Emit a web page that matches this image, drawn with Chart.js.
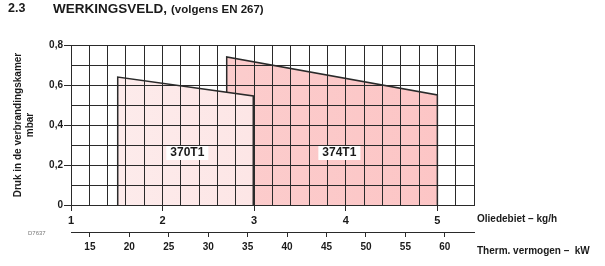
<!DOCTYPE html>
<html>
<head>
<meta charset="utf-8">
<script src="https://cdn.jsdelivr.net/npm/chart.js@4"></script>
<style>
  body { margin: 0; background: #fff; }
  canvas { display: block; }
</style>
</head>
<body>
<canvas id="chart" width="605" height="266"></canvas>
<script>
// werkingsveld: omtrek van elk veld, oliedebiet (kg/h) tegen druk (mbar)
const burners = ['370T1', '374T1'];
const flow370 = [1.51, 1.51, 2.99, 2.99];
const pressure370 = [0, 0.64, 0.545, 0];
const flow374 = [2.70, 2.70, 5.0, 5.0];
const pressure374 = [0, 0.74, 0.55, 0];

// plaats van de veldnamen (kg/h, mbar)
const labelFlow = [2.27, 3.93];
const labelPressure = [0.26, 0.26];

// assen
const flowTicks = [1, 2, 3, 4, 5];
const powerTicks = [15, 20, 25, 30, 35, 40, 45, 50, 55, 60];
const pressureTicks = [0, 0.2, 0.4, 0.6, 0.8];
const flowMin = 1, flowMax = 5.4;
const powerMin = 12.6, powerMax = 63.7;
const pressureMin = 0, pressureMax = 0.8;

const lineColor = '#2a2a2a';
const textColor = '#1a1a1a';
const fontName = '"Liberation Sans", Arial, sans-serif';

function near(list, v) {
    return list.some(t => Math.abs(t - v) < 1e-6);
}

function toPoints(xs, ys) {
    return xs.map((x, i) => ({ x: x, y: ys[i] }));
}

function gradient(chart, from, to) {
    const area = chart.chartArea;
    if (!area) return from;
    const g = chart.ctx.createLinearGradient(area.left, 0, area.right, 0);
    g.addColorStop(0, from);
    g.addColorStop(1, to);
    return g;
}

const annotations = {
    id: 'annotations',
    afterDraw(chart) {
        const { ctx, scales } = chart;
        ctx.save();
        ctx.fillStyle = textColor;
        ctx.textBaseline = 'middle';
        ctx.textAlign = 'left';

        // kop
        ctx.font = 'bold 12.5px ' + fontName;
        ctx.fillText('2.3', 8, 9);
        ctx.font = 'bold 13.5px ' + fontName;
        ctx.fillText('WERKINGSVELD,', 53, 9);
        ctx.font = 'bold 11.5px ' + fontName;
        ctx.fillText('(volgens EN 267)', 171, 9.5);

        // as-namen rechts
        ctx.font = 'bold 10px ' + fontName;
        ctx.fillText('Oliedebiet \u2013 kg/h', scales.x.right + 3, scales.x.top + 14.5);
        ctx.fillText('Therm. vermogen \u2013  kW', scales.x.right + 3, scales.power.top + 19);

        ctx.fillStyle = '#777';
        ctx.font = '6px ' + fontName;
        ctx.fillText('D7637', 28, 233);

        // veldnamen met witte achtergrond
        ctx.font = 'bold 12px ' + fontName;
        ctx.textAlign = 'center';
        burners.forEach((name, i) => {
            const px = scales.x.getPixelForValue(labelFlow[i]);
            const py = scales.y.getPixelForValue(labelPressure[i]);
            const w = ctx.measureText(name).width + 8;
            ctx.fillStyle = '#fff';
            ctx.fillRect(px - w / 2, py - 7, w, 14);
            ctx.fillStyle = textColor;
            ctx.fillText(name, px, py);
        });
        ctx.restore();
    }
};

new Chart(document.getElementById('chart'), {
    type: 'line',
    data: {
        datasets: [
            {
                label: burners[0],
                data: toPoints(flow370, pressure370),
                fill: 'origin',
                backgroundColor: c => gradient(c.chart, '#fdeded', '#fcdddd'),
                borderColor: lineColor,
                borderWidth: 1.5,
                pointRadius: 0,
                tension: 0
            },
            {
                label: burners[1],
                data: toPoints(flow374, pressure374),
                fill: 'origin',
                backgroundColor: c => gradient(c.chart, '#fbd2d2', '#fcc4c4'),
                borderColor: lineColor,
                borderWidth: 1.5,
                pointRadius: 0,
                tension: 0
            }
        ]
    },
    options: {
        responsive: false,
        animation: false,
        layout: { padding: { top: 45, right: 131, bottom: 0, left: 0 } },
        plugins: {
            legend: { display: false },
            tooltip: { enabled: false }
        },
        scales: {
            x: {
                type: 'linear',
                position: 'bottom',
                weight: 0,
                min: flowMin,
                max: flowMax,
                afterFit: s => { s.height = 27; },
                border: { color: lineColor, width: 1, z: 1 },
                grid: {
                    z: 1,
                    color: lineColor,
                    lineWidth: 1,
                    tickLength: 6,
                    tickColor: c => (c.tick && near(flowTicks, c.tick.value)) ? lineColor : 'rgba(0,0,0,0)'
                },
                ticks: {
                    stepSize: 0.2,
                    autoSkip: false,
                    maxRotation: 0,
                    padding: 3,
                    color: textColor,
                    font: { family: fontName, size: 11, weight: 'bold' },
                    callback: v => near(flowTicks, v) ? String(Math.round(v)) : ''
                }
            },
            power: {
                type: 'linear',
                position: 'bottom',
                weight: 1,
                min: powerMin,
                max: powerMax,
                afterFit: s => { s.height = 34; },
                border: { color: lineColor, width: 1 },
                grid: {
                    drawOnChartArea: false,
                    color: lineColor,
                    tickLength: 5
                },
                ticks: {
                    stepSize: 5,
                    includeBounds: false,
                    autoSkip: false,
                    maxRotation: 0,
                    padding: 4,
                    color: textColor,
                    font: { family: fontName, size: 10, weight: 'bold' },
                    callback: v => near(powerTicks, v) ? String(Math.round(v)) : ''
                }
            },
            y: {
                type: 'linear',
                min: pressureMin,
                max: pressureMax,
                afterFit: s => { s.width = 71; },
                border: { color: lineColor, width: 1, z: 1 },
                grid: {
                    z: 1,
                    color: lineColor,
                    lineWidth: 1,
                    tickLength: 7,
                    tickColor: c => (c.tick && near(pressureTicks, c.tick.value)) ? lineColor : 'rgba(0,0,0,0)'
                },
                ticks: {
                    stepSize: 0.1,
                    autoSkip: false,
                    padding: 1,
                    color: textColor,
                    font: { family: fontName, size: 10, weight: 'bold' },
                    callback: v => {
                        if (!near(pressureTicks, v)) return '';
                        return v === 0 ? '0' : v.toFixed(1).replace('.', ',');
                    }
                },
                title: {
                    display: true,
                    text: ['Druk in de verbrandingskamer', 'mbar'],
                    color: textColor,
                    font: { family: fontName, size: 10, weight: 'bold', lineHeight: 1.2 },
                    padding: { top: 12, bottom: 0 }
                }
            }
        }
    },
    plugins: [annotations]
});
</script>
</body>
</html>
